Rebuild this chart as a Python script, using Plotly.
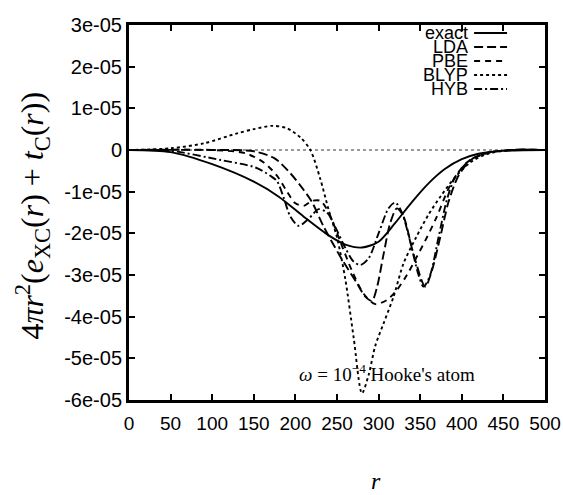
import plotly.graph_objects as go
import numpy as np

SCALE = 1e-5  # values below are in units of 1e-5

r_exact = [0, 50, 100, 150, 180, 210, 240, 260, 280, 300, 320, 340, 360, 380, 400, 420, 450, 500]
v_exact = [0, -0.05, -0.34, -0.76, -1.12, -1.6, -2.05, -2.27, -2.34, -2.2, -1.75, -1.25, -0.8, -0.45, -0.22, -0.09, -0.02, 0]

r_lda = [0, 100, 150, 175, 194, 210, 220, 234, 254, 274, 284, 292, 298, 306, 314, 322, 330, 342, 356, 364, 374, 384, 396, 412, 432, 460, 500]
v_lda = [0, 0, -0.03, -0.2, -0.56, -0.96, -1.25, -1.84, -2.56, -3.2, -3.52, -3.62, -3.3, -2.5, -1.75, -1.4, -1.6, -2.5, -3.28, -2.9, -2.1, -1.25, -0.62, -0.22, -0.06, 0, 0]

r_pbe = [0, 100, 140, 162, 178, 190, 200, 210, 220, 230, 240, 254, 268, 282, 296, 310, 322, 334, 346, 358, 370, 386, 406, 430, 460, 500]
v_pbe = [0, 0, -0.08, -0.3, -0.62, -1.0, -1.28, -1.34, -1.22, -1.22, -1.5, -2.2, -2.9, -3.45, -3.7, -3.6, -3.36, -3.0, -2.56, -2.1, -1.6, -0.85, -0.3, -0.08, 0, 0]

r_blyp = [0, 50, 90, 130, 150, 172, 190, 206, 218, 230, 240, 250, 260, 270, 280, 288, 296, 306, 318, 330, 345, 360, 375, 390, 410, 430, 460, 500]
v_blyp = [0, 0.04, 0.16, 0.4, 0.5, 0.58, 0.52, 0.3, 0, -0.7, -1.44, -2.1, -3.1, -4.5, -5.84, -5.4, -4.7, -4.16, -3.52, -2.72, -2.1, -1.55, -1.1, -0.7, -0.3, -0.1, 0, 0]

r_hyb = [0, 50, 110, 152, 170, 178, 186, 194, 204, 216, 228, 238, 248, 260, 270, 278, 288, 300, 312, 320, 328, 338, 348, 354, 362, 372, 382, 392, 410, 430, 460, 500]
v_hyb = [0, -0.02, -0.24, -0.42, -0.62, -0.75, -1.15, -1.6, -1.82, -1.65, -1.42, -1.5, -1.85, -2.35, -2.68, -2.76, -2.6, -2.0, -1.4, -1.26, -1.5, -2.2, -3.0, -3.28, -3.0, -2.1, -1.2, -0.65, -0.24, -0.07, 0, 0]

names = ["exact", "LDA", "PBE", "BLYP", "HYB"]
r_sets = [r_exact, r_lda, r_pbe, r_blyp, r_hyb]
v_sets = [v_exact, v_lda, v_pbe, v_blyp, v_hyb]
dashes = ["solid", "9px,4px", "6px,5px", "3px,3px", "8px,3px,2px,3px"]

y_tickvals = [-6e-5, -5e-5, -4e-5, -3e-5, -2e-5, -1e-5, 0, 1e-5, 2e-5, 3e-5]
y_ticktext = ["-6e-05", "-5e-05", "-4e-05", "-3e-05", "-2e-05", "-1e-05", "0", "1e-05", "2e-05", "3e-05"]
x_tickvals = [0, 50, 100, 150, 200, 250, 300, 350, 400, 450, 500]

fig = go.Figure()
for name, rs, vs, d in zip(names, r_sets, v_sets, dashes):
    fig.add_trace(go.Scatter(
        x=rs, y=np.array(vs) * SCALE, mode="lines", name=name,
        line=dict(color="black", width=1.9, dash=d, shape="spline", smoothing=0.8),
        showlegend=False, hoverinfo="skip",
    ))

# zero axis (dotted)
fig.add_shape(type="line", xref="paper", x0=0, x1=1, yref="y", y0=0, y1=0,
              line=dict(color="#333", width=1, dash="dot"), layer="below")

W, H = 563, 495
L, R, T, B = 128.5, 18, 25, 95
pw, ph = W - L - R, H - T - B

def px2paper_x(px):
    return (px - L) / pw

def px2paper_y(py):
    return 1 - (py - T) / ph

# legend drawn gnuplot-style: text right-aligned, line sample to its right
for i, (name, d) in enumerate(zip(names, dashes)):
    yc = 33 + i * 14
    yp = px2paper_y(yc)
    fig.add_annotation(x=px2paper_x(470), y=yp, xref="paper", yref="paper",
                       text=name, showarrow=False, xanchor="right", yanchor="middle",
                       font=dict(family="Liberation Sans, Arial", size=18, color="black"))
    fig.add_shape(type="line", xref="paper", yref="paper",
                  x0=px2paper_x(474), x1=px2paper_x(507), y0=yp, y1=yp,
                  line=dict(color="black", width=1.9, dash=d))

fig.add_annotation(x=px2paper_x(387), y=px2paper_y(373), xref="paper", yref="paper",
                   text="<i>ω</i> = 10<sup>−4</sup> Hooke's atom", showarrow=False,
                   xanchor="center", yanchor="middle",
                   font=dict(family="Liberation Serif, Times New Roman", size=19, color="black"))

fig.add_annotation(x=px2paper_x(31), y=px2paper_y(216), xref="paper", yref="paper",
                   text="4<i>πr</i><sup>2</sup>(<i>e</i><sub>XC</sub>(<i>r</i>) + <i>t</i><sub>C</sub>(<i>r</i>))",
                   showarrow=False, textangle=-90, xanchor="center", yanchor="middle",
                   font=dict(family="Liberation Serif, Times New Roman", size=32, color="black"))

fig.add_annotation(x=px2paper_x(376), y=px2paper_y(481), xref="paper", yref="paper",
                   text="<i>r</i>", showarrow=False, xanchor="center", yanchor="middle",
                   font=dict(family="Liberation Serif, Times New Roman", size=24, color="black"))

axis_common = dict(showline=True, linecolor="black", linewidth=3, mirror="ticks",
                   ticks="inside", ticklen=6, tickwidth=1.5, tickcolor="black",
                   showgrid=False, zeroline=False)

fig.update_layout(
    width=W, height=H,
    margin=dict(l=L, r=R, t=T, b=B, autoexpand=False),
    paper_bgcolor="white", plot_bgcolor="white",
    xaxis=dict(range=[0, 500], tickvals=x_tickvals, ticklabelstandoff=4,
               tickfont=dict(family="Liberation Sans, Arial", size=19, color="black"),
               **axis_common),
    yaxis=dict(range=[-6e-5, 3e-5], tickvals=y_tickvals, ticktext=y_ticktext,
               ticklabelstandoff=0,
               tickfont=dict(family="Liberation Sans, Arial", size=20, color="black"),
               **axis_common),
)

fig.write_html("out.html", config={"displayModeBar": False},
               post_script="document.body.style.margin='0px';")
